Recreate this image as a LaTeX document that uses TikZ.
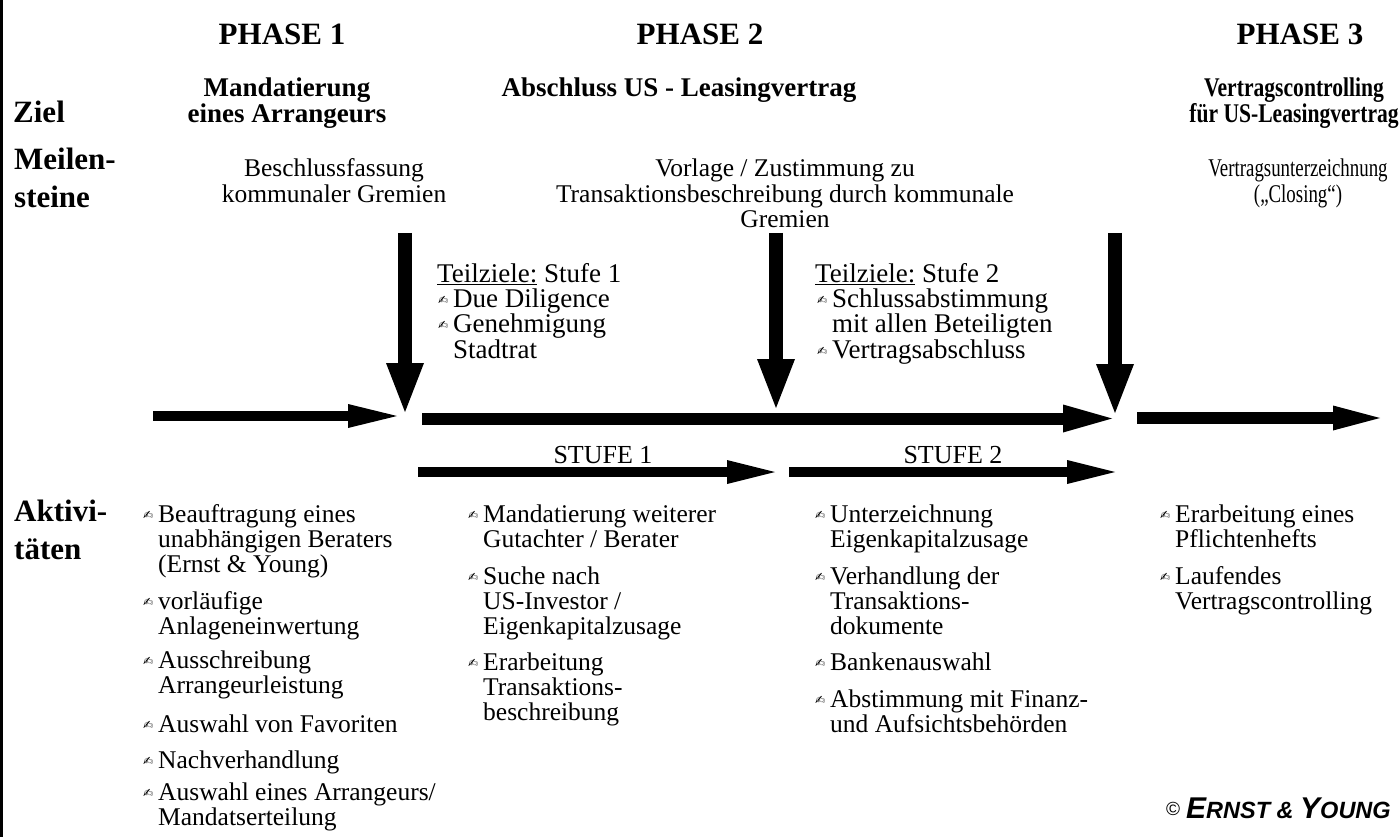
\documentclass[tikz,border=0pt]{standalone}
\usepackage{graphicx}
\usepackage{fontspec}
\setmainfont{Liberation Serif}
\newfontfamily\symfont{DejaVu Sans}
\newfontfamily\eyfont{Liberation Sans}
\usetikzlibrary{arrows.meta}
\newcommand\Lvt[1]{\vtop{\halign{##\hfil\cr#1\crcr}}}
\newcommand\Cvt[1]{\vtop{\halign{\hfil##\hfil\cr#1\crcr}}}
\newcommand\bul{\llap{\raisebox{3pt}{\symfont\fontsize{12}{12}\selectfont ✍}\hspace{5pt}}}
\tikzset{
  ph/.style={anchor=base, inner sep=0pt, font=\bfseries\fontsize{31}{31}\selectfont},
  sub/.style={anchor=base, inner sep=0pt, font=\bfseries\fontsize{27}{26}\selectfont},
  lab/.style={anchor=base west, inner sep=0pt, font=\bfseries\fontsize{31}{38}\selectfont},
  ms/.style={anchor=base, inner sep=0pt, font=\fontsize{25.5}{25.5}\selectfont},
  tz/.style={anchor=base west, inner sep=0pt, font=\fontsize{27}{25.5}\selectfont},
  st/.style={anchor=base, inner sep=0pt, font=\fontsize{26}{26}\selectfont},
  act/.style={anchor=base west, inner sep=0pt, font=\fontsize{25.5}{25}\selectfont},
  harrow/.style={line width=#1, -{Triangle[length=49pt, width=28pt, line width=0pt]}},
  sarrow/.style={line width=10pt, -{Triangle[length=48pt, width=24pt, line width=0pt]}},
  varrow/.style={line width=14pt, -{Triangle[length=49pt, width=38pt, line width=0pt]}},
}
\begin{document}
\begin{tikzpicture}[x=1pt, y=-1pt]
\useasboundingbox (0,0) rectangle (1400,837);
\fill[white] (0,0) rectangle (1400,837);
\clip (0,0) rectangle (1400,837);
\draw[line width=2.5pt] (1.3,0) -- (1.3,837);

% headings
\node[ph] (p1) at (282,45) {PHASE 1};
\node[ph] (p2) at (700,45) {PHASE 2};
\node[ph] (p3) at (1300,45) {PHASE 3};
\node[sub] (z1) at (287,97) {\Cvt{Mandatierung\cr eines Arrangeurs}};
\node[sub] (z2) at (679,97) {Abschluss US - Leasingvertrag};
\node[sub] (z3) at (1294,97) {\scalebox{0.8}[1]{\Cvt{Vertragscontrolling\cr für US-Leasingvertrag}}};

% row labels
\node[lab] (lz) at (13,123) {Ziel};
\node[lab] (lm) at (14,170) {\Lvt{Meilen-\cr steine}};
\node[lab] (la) at (14,521) {\Lvt{Aktivi-\cr täten}};

% milestones
\node[ms] (m1) at (334,177) {\Cvt{Beschlussfassung\cr kommunaler Gremien}};
\node[ms] (m2) at (785,177) {\Cvt{Vorlage / Zustimmung zu\cr Transaktionsbeschreibung durch kommunale\cr Gremien}};
\node[ms] (m3) at (1298,177) {\scalebox{0.74}[1]{\Cvt{Vertragsunterzeichnung\cr („Closing“)}}};

% Teilziele
\node[tz] (t1h) at (437,282) {\underline{Teilziele:} Stufe 1};
\node[tz] (t1) at (453,307) {\Lvt{\bul Due Diligence\cr\bul Genehmigung\cr Stadtrat}};
\node[tz] (t2h) at (815,282) {\underline{Teilziele:} Stufe 2};
\node[tz] (t2) at (832,307) {\Lvt{\bul Schlussabstimmung\cr mit allen Beteiligten\cr\bul Vertragsabschluss}};

% arrow end points
\coordinate (v1s) at (405,233); \coordinate (v1e) at (405,412);
\coordinate (v2s) at (776,233); \coordinate (v2e) at (776,408);
\coordinate (v3s) at (1115,233); \coordinate (v3e) at (1115,413);
\coordinate (h0s) at (153,416); \coordinate (h0e) at (397,416);
\coordinate (h1s) at (422,418.5); \coordinate (h1e) at (1112,418.5);
\coordinate (h2s) at (1137,418); \coordinate (h2e) at (1380,418);
\coordinate (s1s) at (418,472); \coordinate (s1e) at (775,472);
\coordinate (s2s) at (789,472); \coordinate (s2e) at (1115,472);

\draw[varrow] (v1s) -- (v1e);
\draw[varrow] (v2s) -- (v2e);
\draw[varrow] (v3s) -- (v3e);
\draw[line width=10pt, -{Triangle[length=49pt, width=24pt, line width=0pt]}] (h0s) -- (h0e);
\draw[harrow=12pt] (h1s) -- (h1e);
\draw[line width=12pt, -{Triangle[length=47pt, width=25pt, line width=0pt]}] (h2s) -- (h2e);
\draw[sarrow] (s1s) -- (s1e);
\draw[sarrow] (s2s) -- (s2e);

\node[st] (st1) at (603,463) {STUFE 1};
\node[st] (st2) at (953,463) {STUFE 2};

% activities column 1
\node[act] (a11) at (158,522) {\Lvt{\bul Beauftragung eines\cr unabhängigen Beraters\cr (Ernst \& Young)}};
\node[act] (a12) at (158,609) {\Lvt{\bul vorläufige\cr Anlageneinwertung}};
\node[act] (a13) at (158,668) {\Lvt{\bul Ausschreibung\cr Arrangeurleistung}};
\node[act] (a14) at (158,732) {\bul Auswahl von Favoriten};
\node[act] (a15) at (158,768) {\bul Nachverhandlung};
\node[act] (a16) at (158,800) {\Lvt{\bul Auswahl eines Arrangeurs/\cr Mandatserteilung}};
% column 2
\node[act] (a21) at (483,522) {\Lvt{\bul Mandatierung weiterer\cr Gutachter / Berater}};
\node[act] (a22) at (483,584) {\Lvt{\bul Suche nach\cr US-Investor /\cr Eigenkapitalzusage}};
\node[act] (a23) at (483,670) {\Lvt{\bul Erarbeitung\cr Transaktions-\cr beschreibung}};
% column 3
\node[act] (a31) at (830,522) {\Lvt{\bul Unterzeichnung\cr Eigenkapitalzusage}};
\node[act] (a32) at (830,584) {\Lvt{\bul Verhandlung der\cr Transaktions-\cr dokumente}};
\node[act] (a33) at (830,670) {\bul Bankenauswahl};
\node[act] (a34) at (830,707) {\Lvt{\bul Abstimmung mit Finanz-\cr und Aufsichtsbehörden}};
% column 4
\node[act] (a41) at (1175,522) {\Lvt{\bul Erarbeitung eines\cr Pflichtenhefts}};
\node[act] (a42) at (1175,584) {\Lvt{\bul Laufendes\cr Vertragscontrolling}};

% copyright
\node[anchor=base west, inner sep=0pt] (cp) at (1166,818)
  {\eyfont\raisebox{3pt}{\fontsize{19}{19}\selectfont ©}\hspace{6pt}\bfseries\itshape
   \fontsize{30}{30}\selectfont E\fontsize{23.5}{24}\selectfont RNST \& \fontsize{30}{30}\selectfont Y\fontsize{23.5}{24}\selectfont OUNG};
\end{tikzpicture}
\end{document}
